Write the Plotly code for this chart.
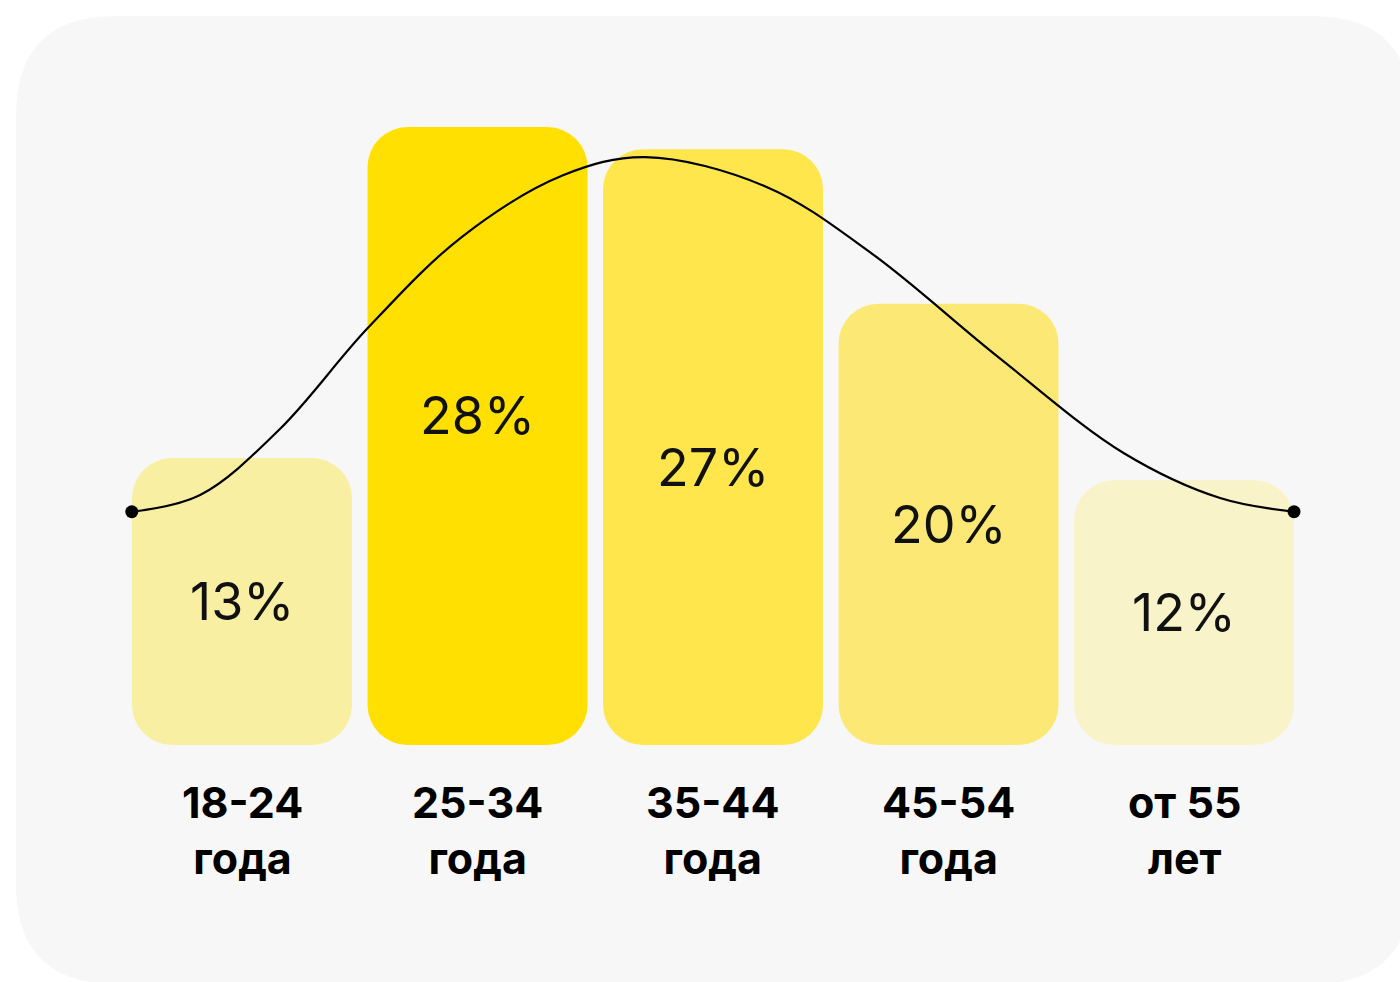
import plotly.graph_objects as go

# ---------------- data ----------------
categories = ["18-24<br>года", "25-34<br>года", "35-44<br>года", "45-54<br>года", "от 55<br>лет"]
values = [13, 28, 27, 20, 12]
value_labels = ["13%", "28%", "27%", "20%", "12%"]

# bell-curve trace (x in category units, y in %)
curve_x = [-0.468, -0.178, 0.161, 0.533, 0.934, 1.363, 1.711, 2.225, 2.673, 3.210, 3.745, 4.153, 4.467]
curve_y = [10.57, 11.33, 14.32, 18.88, 23.03, 25.82, 26.64, 25.30, 22.28, 17.59, 13.22, 11.19, 10.57]

# ---------------- style ----------------
bar_colors = ["#F8EFA2", "#FFE000", "#FEE64C", "#FCE975", "#F8F3C8"]
label_frac = [0.5, 0.534, 0.465, 0.5, 0.5]   # vertical position of % label within bar
W, H = 1400, 982
BAR_W = 0.934
RADIUS = 40
FONT = "Inter"

fig = go.Figure()

fig.add_trace(go.Bar(x=list(range(len(values))), y=values, base=[0] * len(values), width=BAR_W,
                     marker=dict(color=bar_colors, cornerradius=RADIUS, line=dict(width=0)),
                     hoverinfo="skip", showlegend=False))

fig.add_trace(go.Scatter(x=curve_x, y=curve_y, mode="lines",
                         line=dict(color="#000000", width=2.2, shape="spline", smoothing=1.0),
                         hoverinfo="skip", showlegend=False))
fig.add_trace(go.Scatter(x=[curve_x[0], curve_x[-1]], y=[curve_y[0], curve_y[-1]], mode="markers",
                         marker=dict(color="#000000", size=13),
                         hoverinfo="skip", showlegend=False))

for i, v in enumerate(values):
    fig.add_annotation(x=i, y=v * label_frac[i], text=value_labels[i], showarrow=False,
                       font=dict(family=FONT, size=52, color="#111111", weight=400),
                       xanchor="center", yanchor="middle")
    fig.add_annotation(x=i, y=-3.83, text=categories[i], showarrow=False,
                       font=dict(family=FONT, size=43, color="#000000", weight=700),
                       xanchor="center", yanchor="middle")

# rounded background panel (paper coordinates, figure pixels converted)
def px(x):
    return x / W
def py(y):
    return 1 - y / H

x0, x1, y0, y1, r = 16, 1412, 16, 984, 100
path = (f"M {px(x0 + r)} {py(y0)} L {px(x1 - r)} {py(y0)} "
        f"Q {px(x1)} {py(y0)} {px(x1)} {py(y0 + r)} "
        f"L {px(x1)} {py(y1 - r)} Q {px(x1)} {py(y1)} {px(x1 - r)} {py(y1)} "
        f"L {px(x0 + r)} {py(y1)} Q {px(x0)} {py(y1)} {px(x0)} {py(y1 - r)} "
        f"L {px(x0)} {py(y0 + r)} Q {px(x0)} {py(y0)} {px(x0 + r)} {py(y0)} Z")
fig.add_shape(type="path", path=path, xref="paper", yref="paper",
              fillcolor="#F7F7F7", line=dict(width=0), layer="below")

fig.update_layout(
    width=W, height=H,
    margin=dict(l=0, r=0, t=0, b=0),
    paper_bgcolor="white", plot_bgcolor="rgba(0,0,0,0)",
    barmode="overlay",
    xaxis=dict(range=[-1.0276, 4.917], visible=False, fixedrange=True),
    yaxis=dict(range=[-10.74, 33.76], visible=False, fixedrange=True),
    showlegend=False,
)

fig.write_html("out.html", config={"displayModeBar": False},
               post_script="document.body.style.margin='0';document.body.style.overflow='hidden';")
